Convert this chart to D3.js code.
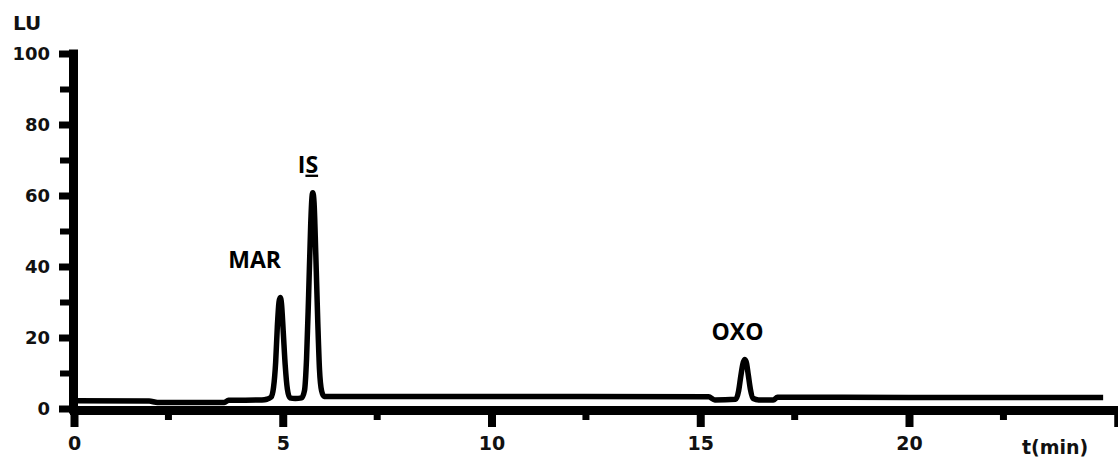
<!DOCTYPE html>
<html>
<head>
<meta charset="utf-8">
<script src="https://cdn.jsdelivr.net/npm/d3@7"></script>
<style>
  html, body { margin: 0; padding: 0; background: #fff; }
  svg { display: block; }
</style>
</head>
<body>
<div id="chart"></div>
<script>
// chromatogram trace (time in min, signal in LU)
const times = [0, 1.8, 2.0, 3.6, 3.7, 4.5, 4.62, 4.72, 4.78, 4.83, 4.87, 4.91, 4.94, 4.97, 5.01, 5.06, 5.11, 5.17, 5.3, 5.45,
  5.52, 5.57, 5.62, 5.67, 5.70, 5.72, 5.75, 5.79, 5.84, 5.88, 5.93, 5.99, 6.2, 10, 15.2, 15.35, 15.85, 15.92, 15.97, 16.02,
  16.06, 16.10, 16.15, 16.20, 16.27, 16.4, 16.75, 16.85, 20, 24.65];
const lu = [2.2, 2.1, 1.7, 1.7, 2.3, 2.4, 2.6, 3.2, 6, 13, 23, 30, 31.3, 29.5, 22, 12, 5.5, 3.0, 2.8, 3.0,
  5, 14, 32, 52, 59.5, 60.8, 58, 44, 24, 11, 5, 3.4, 3.4, 3.4, 3.3, 2.4, 2.6, 5, 9, 12.5,
  13.8, 13.2, 9.5, 5.5, 2.8, 2.4, 2.4, 3.2, 3.1, 3.1];

const yMajorTicks = [0, 20, 40, 60, 80, 100];
const yMinorTicks = [10, 30, 50, 70, 90];
const xMajorTicks = [0, 5, 10, 15, 20, 25];
const xMajorLabels = ["0", "5", "10", "15", "20", ""];
const xMinorTicks = [2.25, 7.25, 12.25, 17.25, 22.25];

const peakNames = ["MAR", "IS", "OXO"];
const peakTimes = [4.94, 5.72, 16.06];
const peakHeights = [31.3, 60.8, 13.8];

const width = 1118, height = 464;
const svg = d3.select("#chart").append("svg")
  .attr("width", width)
  .attr("height", height);

const x = d3.scaleLinear().domain([0, 25]).range([74, 1117.75]);
const y = d3.scaleLinear().domain([0, 100]).range([408.5, 53.5]);

const axisFont = "'DejaVu Sans', sans-serif";

// y axis
const yAxis = svg.append("g")
  .attr("transform", "translate(73,0)")
  .call(d3.axisLeft(y).tickValues(yMajorTicks).tickSize(14).tickSizeOuter(0).tickPadding(9));
yAxis.select(".domain").attr("stroke", "#000").attr("stroke-width", 9).attr("stroke-linecap", "square");
yAxis.selectAll(".tick line").attr("stroke", "#000").attr("stroke-width", 7);
yAxis.selectAll(".tick text")
  .style("font-family", axisFont).style("font-size", "18px").style("font-weight", "bold").attr("fill", "#111");

const yMinor = svg.append("g")
  .attr("transform", "translate(73,0)")
  .call(d3.axisLeft(y).tickValues(yMinorTicks).tickSize(13).tickFormat(""));
yMinor.select(".domain").remove();
yMinor.selectAll(".tick line").attr("stroke", "#000").attr("stroke-width", 6);

// x axis
const xAxis = svg.append("g")
  .attr("transform", "translate(0,410)")
  .call(d3.axisBottom(x).tickValues(xMajorTicks).tickSize(17).tickSizeOuter(0).tickPadding(10)
    .tickFormat((d, i) => xMajorLabels[i]));
xAxis.select(".domain").attr("stroke", "#000").attr("stroke-width", 9).attr("stroke-linecap", "square");
xAxis.selectAll(".tick line").attr("stroke", "#000").attr("stroke-width", 8);
xAxis.selectAll(".tick text")
  .style("font-family", axisFont).style("font-size", "19px").style("font-weight", "bold").attr("fill", "#111");

const xMinor = svg.append("g")
  .attr("transform", "translate(0,410)")
  .call(d3.axisBottom(x).tickValues(xMinorTicks).tickSize(10).tickFormat(""));
xMinor.select(".domain").remove();
xMinor.selectAll(".tick line").attr("stroke", "#000").attr("stroke-width", 7);

// axis titles
svg.append("text")
  .attr("x", 13).attr("y", 30)
  .style("font-family", axisFont).style("font-size", "20px").style("font-weight", "bold")
  .attr("fill", "#111")
  .text("LU");
svg.append("text")
  .attr("x", 1022).attr("y", 454)
  .style("font-family", axisFont).style("font-size", "19px").style("font-weight", "bold")
  .attr("fill", "#111")
  .text("t(min)");

// trace
const trace = times.map((t, i) => [t, lu[i]]);
const line = d3.line()
  .x(d => x(d[0]))
  .y(d => y(d[1]))
  .curve(d3.curveMonotoneX);

svg.append("path")
  .datum(trace)
  .attr("d", line)
  .attr("fill", "none")
  .attr("stroke", "#000")
  .attr("stroke-width", 5.5)
  .attr("stroke-linejoin", "round");

// peak labels
const labelOffsets = [[-52, -29], [-15, -20], [-33, -20]];
const labelFont = "'Open Sans', sans-serif";
peakNames.forEach((name, i) => {
  const t = svg.append("text")
    .attr("x", x(peakTimes[i]) + labelOffsets[i][0])
    .attr("y", y(peakHeights[i]) + labelOffsets[i][1])
    .style("font-family", labelFont).style("font-size", "23px").style("font-weight", "bold")
    .attr("fill", "#000");
  if (name === "IS") {
    t.append("tspan").text("I");
    t.append("tspan").style("text-decoration", "underline").text("S");
  } else {
    t.text(name);
  }
});
</script>
</body>
</html>
